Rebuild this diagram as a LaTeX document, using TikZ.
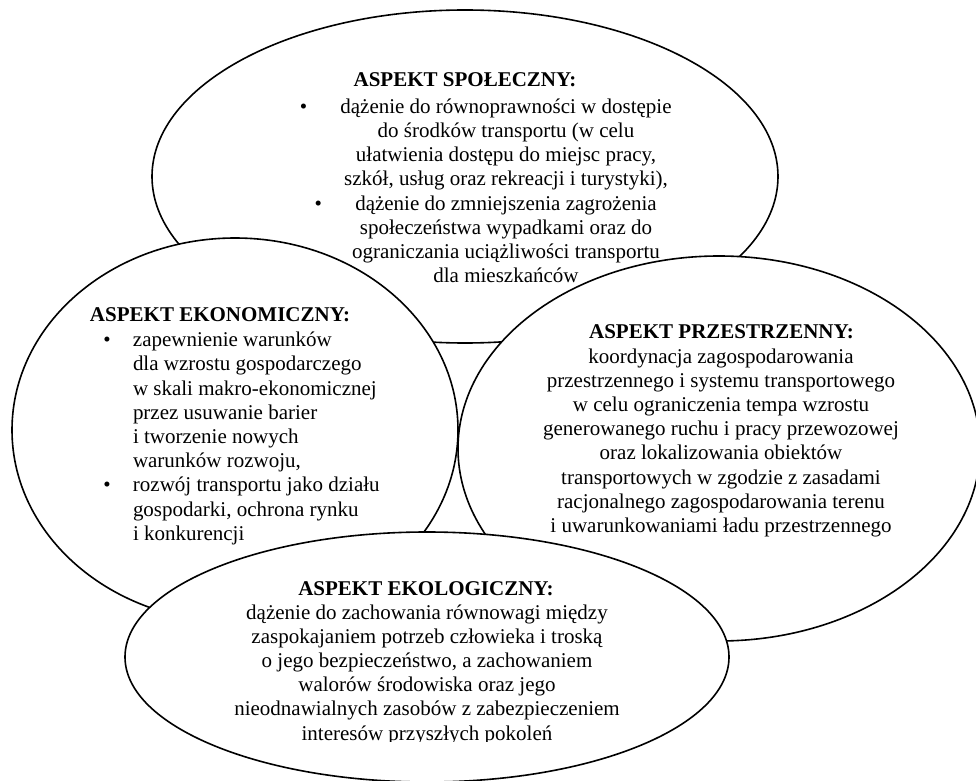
\documentclass[tikz,border=0pt]{standalone}
\usepackage{fontspec}
\setmainfont{Liberation Serif}
\begin{document}
\begin{tikzpicture}[x=0.5pt, y=-0.5pt,
	elipsa/.style={draw=black, thick, fill=white},
	naglowek/.style={inner sep=0, outer sep=0, font=\fontsize{10.5}{12.1}\selectfont\bfseries},
	tresc/.style={inner sep=0, outer sep=0, font=\fontsize{10.5}{12.1}\selectfont}]
	\useasboundingbox (0,0) rectangle (976,781); %ramka
	%aspekt społeczny
	\draw[elipsa] (465,176.5) ellipse [x radius=313, y radius=166.5];
	\node[naglowek, anchor=base] (spolNag) at (465,86.7) {ASPEKT SPOŁECZNY:};
	\node[tresc, anchor=north, align=center] (spolTxt) at (506,96.4) {\strut\llap{\textbullet\hspace{16.6pt}}dążenie do równoprawności w dostępie\\ do środków transportu (w celu\\ ułatwienia dostępu do miejsc pracy,\\ szkół, usług oraz rekreacji i turystyki),\\ \llap{\textbullet\hspace{16.6pt}}dążenie do zmniejszenia zagrożenia\\ społeczeństwa wypadkami oraz do\\ ograniczania uciążliwości transportu\\ dla mieszkańców};
	%aspekt ekonomiczny
	\draw[elipsa] (235,430) ellipse [x radius=223, y radius=192];
	\node[naglowek, anchor=base west] (ekonNag) at (90,321.7) {ASPEKT EKONOMICZNY:};
	\node[tresc, anchor=north west, align=left] (ekonTxt) at (133,329.8) {\strut\llap{\textbullet\hspace{11.1pt}}zapewnienie warunków\\ dla wzrostu gospodarczego\\ w skali makro-ekonomicznej\\ przez usuwanie barier\\ i tworzenie nowych\\ warunków rozwoju,\\ \llap{\textbullet\hspace{11.1pt}}rozwój transportu jako działu\\ gospodarki, ochrona rynku\\ i konkurencji};
	%aspekt przestrzenny
	\draw[elipsa] (719,448.5) ellipse [x radius=261, y radius=192.5];
	\node[naglowek, anchor=base] (przNag) at (721.5,338) {ASPEKT PRZESTRZENNY:};
	\node[tresc, anchor=north, align=center] (przTxt) at (721,346.1) {\strut koordynacja zagospodarowania\\ przestrzennego i systemu transportowego\\ w celu ograniczenia tempa wzrostu\\ generowanego ruchu i pracy przewozowej\\ oraz lokalizowania obiektów\\ transportowych w zgodzie z zasadami\\ racjonalnego zagospodarowania terenu\\ i uwarunkowaniami ładu przestrzennego};
	%aspekt ekologiczny
	\draw[elipsa] (427,657) ellipse [x radius=302, y radius=125];
	\node[naglowek, anchor=base] (ekoNag) at (426,595) {ASPEKT EKOLOGICZNY:};
	\begin{scope}
	\clip (0,0) rectangle (976,741); %ucięty dół tekstu
	\node[tresc, anchor=north, align=center] (ekoTxt) at (427,602.1) {\strut dążenie do zachowania równowagi między\\ zaspokajaniem potrzeb człowieka i troską\\ o jego bezpieczeństwo, a zachowaniem\\ walorów środowiska oraz jego\\ nieodnawialnych zasobów z zabezpieczeniem\\ interesów przyszłych pokoleń};
	\end{scope}
\end{tikzpicture}
\end{document}
